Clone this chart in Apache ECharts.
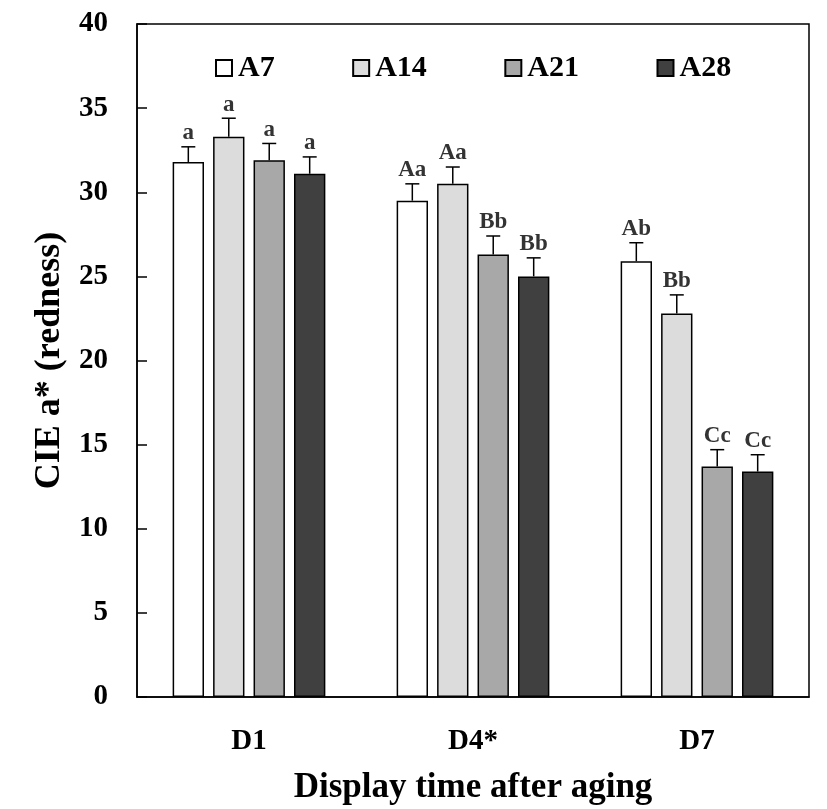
<!DOCTYPE html>
<html>
<head>
<meta charset="utf-8">
<script src="https://cdn.jsdelivr.net/npm/echarts@6/dist/echarts.min.js"></script>
<style>html,body{margin:0;padding:0;background:#fff;}#c{width:827px;height:809px;}</style>
</head>
<body>
<div id="c"></div>
<script>
var categories = ['D1', 'D4*', 'D7'];
var seriesNames = ['A7', 'A14', 'A21', 'A28'];
var A7  = [31.8, 29.5, 25.9];
var A14 = [33.3, 30.5, 22.8];
var A21 = [31.9, 26.3, 13.7];
var A28 = [31.1, 25.0, 13.4];
var A7err  = [0.9, 1.0, 1.1];
var A14err = [1.1, 1.0, 1.1];
var A21err = [1.0, 1.1, 1.0];
var A28err = [1.0, 1.1, 1.0];
var A7lab  = ['a', 'Aa', 'Ab'];
var A14lab = ['a', 'Aa', 'Bb'];
var A21lab = ['a', 'Bb', 'Cc'];
var A28lab = ['a', 'Bb', 'Cc'];
var yTicks = [0, 5, 10, 15, 20, 25, 30, 35, 40];

var values = [A7, A14, A21, A28];
var errs = [A7err, A14err, A21err, A28err];
var labs = [A7lab, A14lab, A21lab, A28lab];
var colors = ['#ffffff', '#dcdcdc', '#a8a8a8', '#404040'];
var FONT = '"Liberation Serif", "Times New Roman", serif';
var BAR_W = 0.14, GAP = 0.29;

var series = [];
seriesNames.forEach(function (n, si) {
  series.push({
    type: 'bar', name: n, data: values[si],
    barWidth: (BAR_W * 100) + '%', barGap: (GAP * 100) + '%',
    itemStyle: { color: colors[si], borderColor: '#000', borderWidth: 1.5 },
    z: 2
  });
});
seriesNames.forEach(function (n, si) {
  series.push({
    type: 'custom', name: n + '_err',
    encode: { x: 0, y: 1 },
    data: categories.map(function (c, i) { return [i, values[si][i], errs[si][i]]; }),
    renderItem: function (params, api) {
      var ci = api.value(0), v = api.value(1), e = api.value(2);
      var base = api.coord([ci, v]);
      var top = api.coord([ci, v + e]);
      var band = api.size([1, 0])[0];
      var w = band * BAR_W;
      var x = base[0] + (si - 1.5) * w * (1 + GAP);
      var half = 7;
      return {
        type: 'group', children: [
          { type: 'line', shape: { x1: x, y1: base[1], x2: x, y2: top[1] }, style: { stroke: '#000', lineWidth: 1.5 } },
          { type: 'line', shape: { x1: x - half, y1: top[1], x2: x + half, y2: top[1] }, style: { stroke: '#000', lineWidth: 1.5 } },
          { type: 'text', style: { text: labs[si][ci], x: x, y: top[1] - 2, align: 'center', verticalAlign: 'bottom',
            fontFamily: FONT, fontWeight: 'bold', fontSize: 23, fill: '#333' } }
        ]
      };
    },
    z: 5
  });
});

var chart = echarts.init(document.getElementById('c'));
chart.setOption({
  animation: false,
  backgroundColor: '#fff',
  grid: { left: 137, right: 18, top: 24, bottom: 112, containLabel: false, outerBoundsMode: 'none',
    show: true, borderColor: '#000', borderWidth: 1.5, backgroundColor: 'transparent' },
  legend: {
    data: seriesNames, top: 48, left: 210, itemWidth: 16, itemHeight: 16, itemGap: 77.5,
    icon: 'rect',
    textStyle: { fontFamily: FONT, fontWeight: 'bold', fontSize: 30, color: '#000', padding: [0, 0, 0, 1] }
  },
  xAxis: {
    type: 'category', data: categories,
    axisLine: { lineStyle: { color: '#000', width: 1.5 } },
    axisTick: { inside: true, length: 8, lineStyle: { color: '#000', width: 1.5 } },
    axisLabel: { margin: 30, fontFamily: FONT, fontWeight: 'bold', fontSize: 29, color: '#000' },
    name: 'Display time after aging', nameLocation: 'middle', nameGap: 73,
    nameTextStyle: { fontFamily: FONT, fontWeight: 'bold', fontSize: 35, color: '#000' }
  },
  yAxis: {
    type: 'value', min: 0, max: 40, interval: 5,
    axisLine: { show: true, lineStyle: { color: '#000', width: 1.5 } },
    axisTick: { show: true, inside: true, length: 10, lineStyle: { color: '#000', width: 1.5 } },
    splitLine: { show: false },
    axisLabel: { margin: 29, fontFamily: FONT, fontWeight: 'bold', fontSize: 29, color: '#000',
      formatter: function (v) { return yTicks.indexOf(v) >= 0 ? String(v) : ''; } },
    name: 'CIE a* (redness)', nameLocation: 'middle', nameGap: 68,
    nameTextStyle: { fontFamily: FONT, fontWeight: 'bold', fontSize: 36, color: '#000' }
  },
  series: series
});
</script>
</body>
</html>
